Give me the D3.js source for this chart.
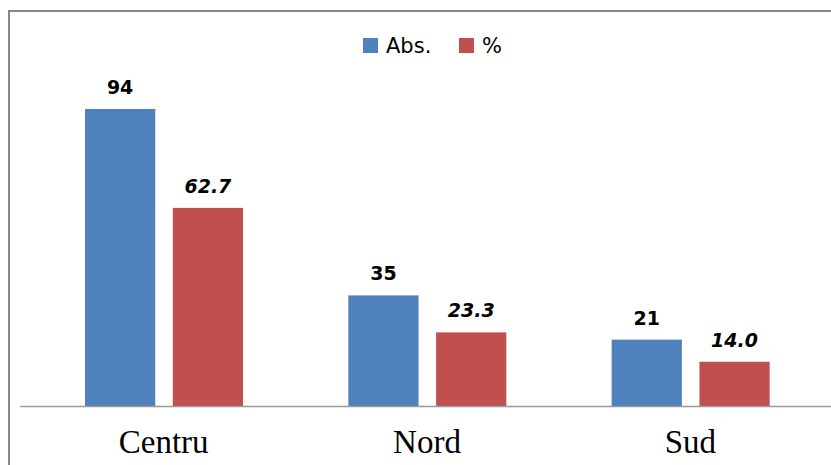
<!DOCTYPE html>
<html><head><meta charset="utf-8">
<script src="https://cdn.jsdelivr.net/npm/d3@7"></script>
<style>body{margin:0;background:#fff}svg{display:block}</style>
</head><body>
<script>
const categories = ["Centru", "Nord", "Sud"];
const seriesNames = ["Abs.", "%"];
const absValues = [94, 35, 21];
const pctValues = [62.7, 23.3, 14.0];
const pctLabels = ["62.7", "23.3", "14.0"];
const colors = ["#4F81BD", "#C0504D"];

const W = 831, H = 465;
const svg = d3.select("body").append("svg").attr("width", W).attr("height", H);

// frame
svg.append("path").attr("d", `M9,${H+5} V11 H${W+5}`).attr("fill","none").attr("stroke","#888").attr("stroke-width",2);

const baseY = 406;
const x0 = d3.scaleBand().domain(categories).range([32, 822]).paddingInner(0).paddingOuter(0);
const x1 = d3.scaleBand().domain(seriesNames).range([53, 211]).paddingInner(0.2).paddingOuter(0);
const y = d3.scaleLinear().domain([0, 94]).range([baseY, 109]);

const data = categories.map((c, i) => ({cat: c, vals: [
  {s: seriesNames[0], v: absValues[i], label: String(absValues[i]), italic: false},
  {s: seriesNames[1], v: pctValues[i], label: pctLabels[i], italic: true}
]}));

const g = svg.selectAll("g.cat").data(data).join("g").attr("class","cat")
  .attr("transform", d => `translate(${x0(d.cat)},0)`);
g.selectAll("rect").data(d => d.vals).join("rect")
  .attr("x", d => x1(d.s)).attr("width", x1.bandwidth())
  .attr("y", d => y(d.v)).attr("height", d => baseY - y(d.v))
  .attr("fill", (d, i) => colors[i]);
g.selectAll("text.val").data(d => d.vals).join("text").attr("class","val")
  .attr("x", d => x1(d.s) + x1.bandwidth()/2).attr("y", d => y(d.v) - 15)
  .attr("text-anchor","middle").attr("font-family","DejaVu Sans, Verdana, sans-serif")
  .attr("font-size", 19).attr("font-weight","bold")
  .attr("font-style", d => d.italic ? "italic" : "normal").attr("fill","#000")
  .text(d => d.label);

// baseline axis
const axis = d3.axisBottom(x0).tickSize(0).tickPadding(0);
const ax = svg.append("g").attr("transform", `translate(0,${baseY})`).call(axis);
ax.select(".domain").attr("d", `M20,0.5H${W}`).attr("stroke","#999").attr("stroke-width",1.5);
ax.selectAll("text").attr("dy", 0).attr("y", 47)
  .attr("font-family","Liberation Serif, Times New Roman, serif").attr("font-size", 33).attr("fill","#000");

// legend
const legend = svg.append("g");
const lx = [363, 459];
seriesNames.forEach((s, i) => {
  legend.append("rect").attr("x", lx[i]).attr("y", 38).attr("width", 15).attr("height", 15).attr("fill", colors[i]);
  legend.append("text").attr("x", lx[i] + 23).attr("y", 53)
    .attr("font-family","DejaVu Sans, Verdana, sans-serif").attr("font-size", 21).attr("fill","#000").text(s);
});
</script>
</body></html>
